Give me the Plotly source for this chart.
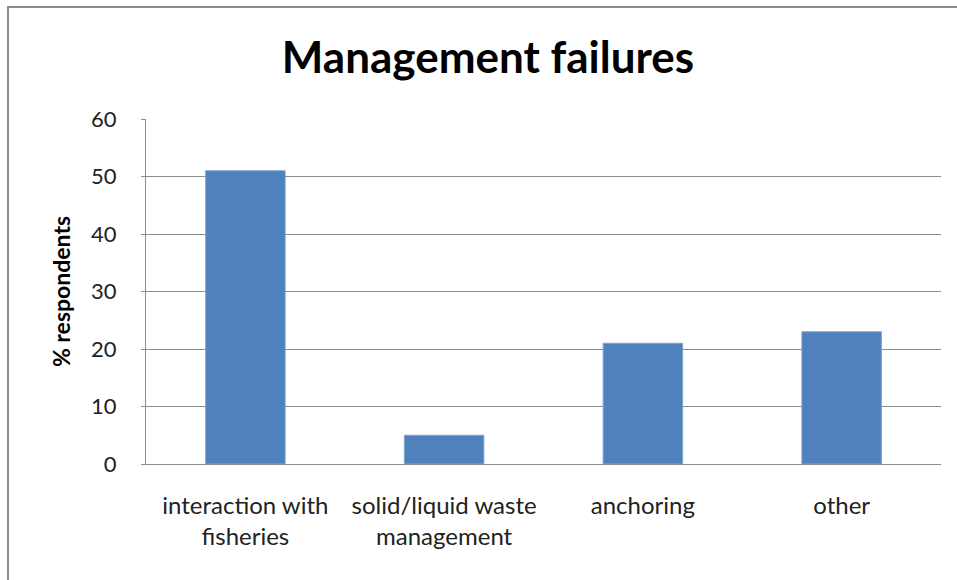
import plotly.graph_objects as go

categories = ["interaction with<br>fisheries", "solid/liquid waste<br>management", "anchoring", "other"]
values = [51, 5, 21, 23]
y_ticks = [0, 10, 20, 30, 40, 50, 60]

FONT = "Lato"

fig = go.Figure(go.Bar(
    x=categories, y=values,
    marker=dict(color="#4F81BD", line=dict(color="#7FA3D0", width=1)),
    width=0.4,
))

W, H = 957, 580
fig.update_layout(
    width=W, height=H,
    margin=dict(l=146, r=16, t=119, b=116),
    paper_bgcolor="white", plot_bgcolor="white",
    showlegend=False,
    font=dict(family=FONT, color="#222222"),
    title=dict(text="<b>Management failures</b>", x=488 / W, xanchor="center",
               y=1 - 58 / H, yanchor="middle", yref="container",
               font=dict(family=FONT, size=44, color="black")),
    shapes=[dict(type="rect", xref="paper", yref="paper",
                 x0=(8 - 146) / 795, x1=1.2, y0=-1, y1=(464 - 7) / 345,
                 line=dict(color="#8C8C8C", width=2), fillcolor="rgba(0,0,0,0)", layer="below")],
)

fig.update_xaxes(
    showgrid=False, showline=True, linecolor="#8C8C8C", linewidth=1,
    tickfont=dict(family=FONT, size=24, color="#222222"),
    ticks="", ticklabelstandoff=20,
)
fig.update_yaxes(
    range=[0, 60], tickvals=y_ticks, showgrid=True, gridcolor="#8C8C8C", gridwidth=1,
    showline=True, linecolor="#8C8C8C", linewidth=1, zeroline=False,
    ticks="outside", ticklen=4, tickcolor="#8C8C8C",
    tickfont=dict(family=FONT, size=22, color="#222222"),
    ticklabelstandoff=20,
    title=dict(text="<b>% respondents</b>", font=dict(family=FONT, size=23, color="black"), standoff=14),
)

fig.write_html("out.html", config={"displayModeBar": False},
               post_script="document.body.style.margin='0';")
